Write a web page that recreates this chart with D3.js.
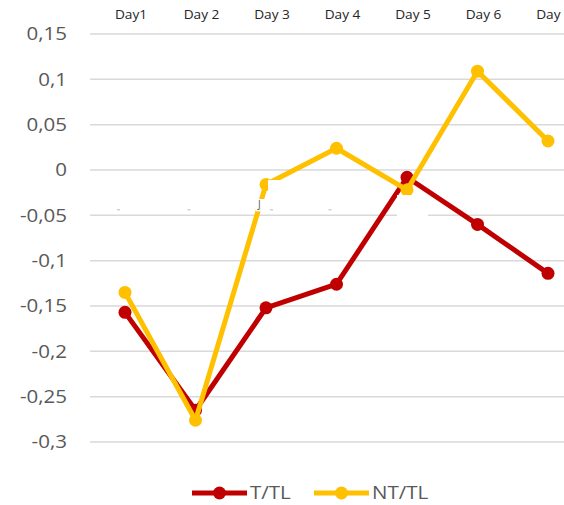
<!DOCTYPE html>
<html>
<head>
<meta charset="utf-8">
<script src="https://cdn.jsdelivr.net/npm/d3@7"></script>
<style>
  html, body { margin: 0; padding: 0; background: #fff; }
  svg { display: block; font-family: "Open Sans", "Noto Sans", sans-serif; }
</style>
</head>
<body>
<svg id="chart" width="564" height="505"></svg>
<script>
// Categories and series
const days = ["Day1", "Day 2", "Day 3", "Day 4", "Day 5", "Day 6", "Day 7"];
const tTL  = [-0.157, -0.265, -0.152, -0.126, -0.008, -0.060, -0.114];
const ntTL = [-0.135, -0.276, -0.016,  0.024, -0.022,  0.109,  0.032];
const yTicks = [0.15, 0.1, 0.05, 0, -0.05, -0.1, -0.15, -0.2, -0.25, -0.3];
const seriesNames = ["T/TL", "NT/TL"];
const seriesColors = ["#c00000", "#ffc000"];

const svg = d3.select("#chart");
const W = 564;
const SX = 1.14; // horizontal stretch of the text glyphs

const x = d3.scalePoint().domain(days).range([125, 548]);
const y = d3.scaleLinear().domain([-0.3, 0.15]).range([442, 34]);

// Decimal comma and a plain hyphen for negatives
const fmt = v => (v === 0 ? "0" : String(+v.toFixed(2))).replace(".", ",");

// Horizontal gridlines
svg.append("g").selectAll("line").data(yTicks).join("line")
  .attr("x1", 90).attr("x2", W)
  .attr("y1", d => y(d)).attr("y2", d => y(d))
  .attr("stroke", "#d9d9d9").attr("stroke-width", 1.5);

// Value axis labels
svg.append("g").selectAll("text").data(yTicks).join("text")
  .attr("transform", d => `translate(67,${y(d)}) scale(${SX},1)`)
  .attr("dy", "0.36em")
  .attr("text-anchor", "end")
  .attr("font-size", 18).attr("fill", "#595959")
  .text(fmt);

// Category labels along the top
svg.append("g").selectAll("text").data(days).join("text")
  .attr("transform", d => `translate(${x(d) + 6},19) scale(${SX},1)`)
  .attr("text-anchor", "middle")
  .attr("font-size", 12).attr("fill", "#262626")
  .text(d => d);

// Series lines with markers
const series = [tTL, ntTL];
series.forEach((vals, i) => {
  const pts = vals.map((v, j) => [x(days[j]), y(v)]);
  const g = svg.append("g");
  g.append("path")
    .attr("d", d3.line()(pts))
    .attr("fill", "none")
    .attr("stroke", seriesColors[i]).attr("stroke-width", 5)
    .attr("stroke-linejoin", "round");
  g.selectAll("circle").data(pts).join("circle")
    .attr("cx", d => d[0]).attr("cy", d => d[1]).attr("r", 6.5)
    .attr("fill", seriesColors[i]);
});

// Leftover label boxes of the category axis at zero
const masks = svg.append("g").attr("fill", "#fff");
const y0 = y(0), y5 = y(-0.05);
masks.append("rect").attr("x", x("Day 3") + 2).attr("y", y0 + 10)
  .attr("width", 33).attr("height", y5 - y0 - 14);
masks.append("rect").attr("x", x("Day 3") - 10).attr("y", y0 + 29)
  .attr("width", 45).attr("height", y5 - y0 - 33);
masks.append("rect").attr("x", x("Day 5") - 10).attr("y", y0 + 25)
  .attr("width", 31).attr("height", y5 - y0 - 22);

// Tiny remnants of hidden axis text
svg.append("text").attr("x", x("Day 3") - 8).attr("y", y5 - 7)
  .attr("font-size", 10).attr("fill", "#595959").text("J");
svg.append("g").selectAll("rect").data(["Day1", "Day 2", "Day 4"]).join("rect")
  .attr("x", d => x(d) - 8).attr("y", y5 - 6).attr("width", 3).attr("height", 1)
  .attr("fill", "#bbb");
svg.append("rect").attr("x", x("Day 3") + 4).attr("y", y5 - 6)
  .attr("width", 3).attr("height", 1).attr("fill", "#bbb");

// Legend
const legend = svg.append("g");
const legendX = [192, 314];
seriesNames.forEach((name, i) => {
  const lx = legendX[i], ly = 493;
  legend.append("line").attr("x1", lx).attr("x2", lx + 55)
    .attr("y1", ly).attr("y2", ly)
    .attr("stroke", seriesColors[i]).attr("stroke-width", 5);
  legend.append("circle").attr("cx", lx + 27.5).attr("cy", ly).attr("r", 6.5)
    .attr("fill", seriesColors[i]);
  legend.append("text")
    .attr("transform", `translate(${lx + 58},${ly}) scale(${SX},1)`)
    .attr("dy", "0.36em")
    .attr("font-size", 18).attr("fill", "#595959").text(name);
});
</script>
</body>
</html>
